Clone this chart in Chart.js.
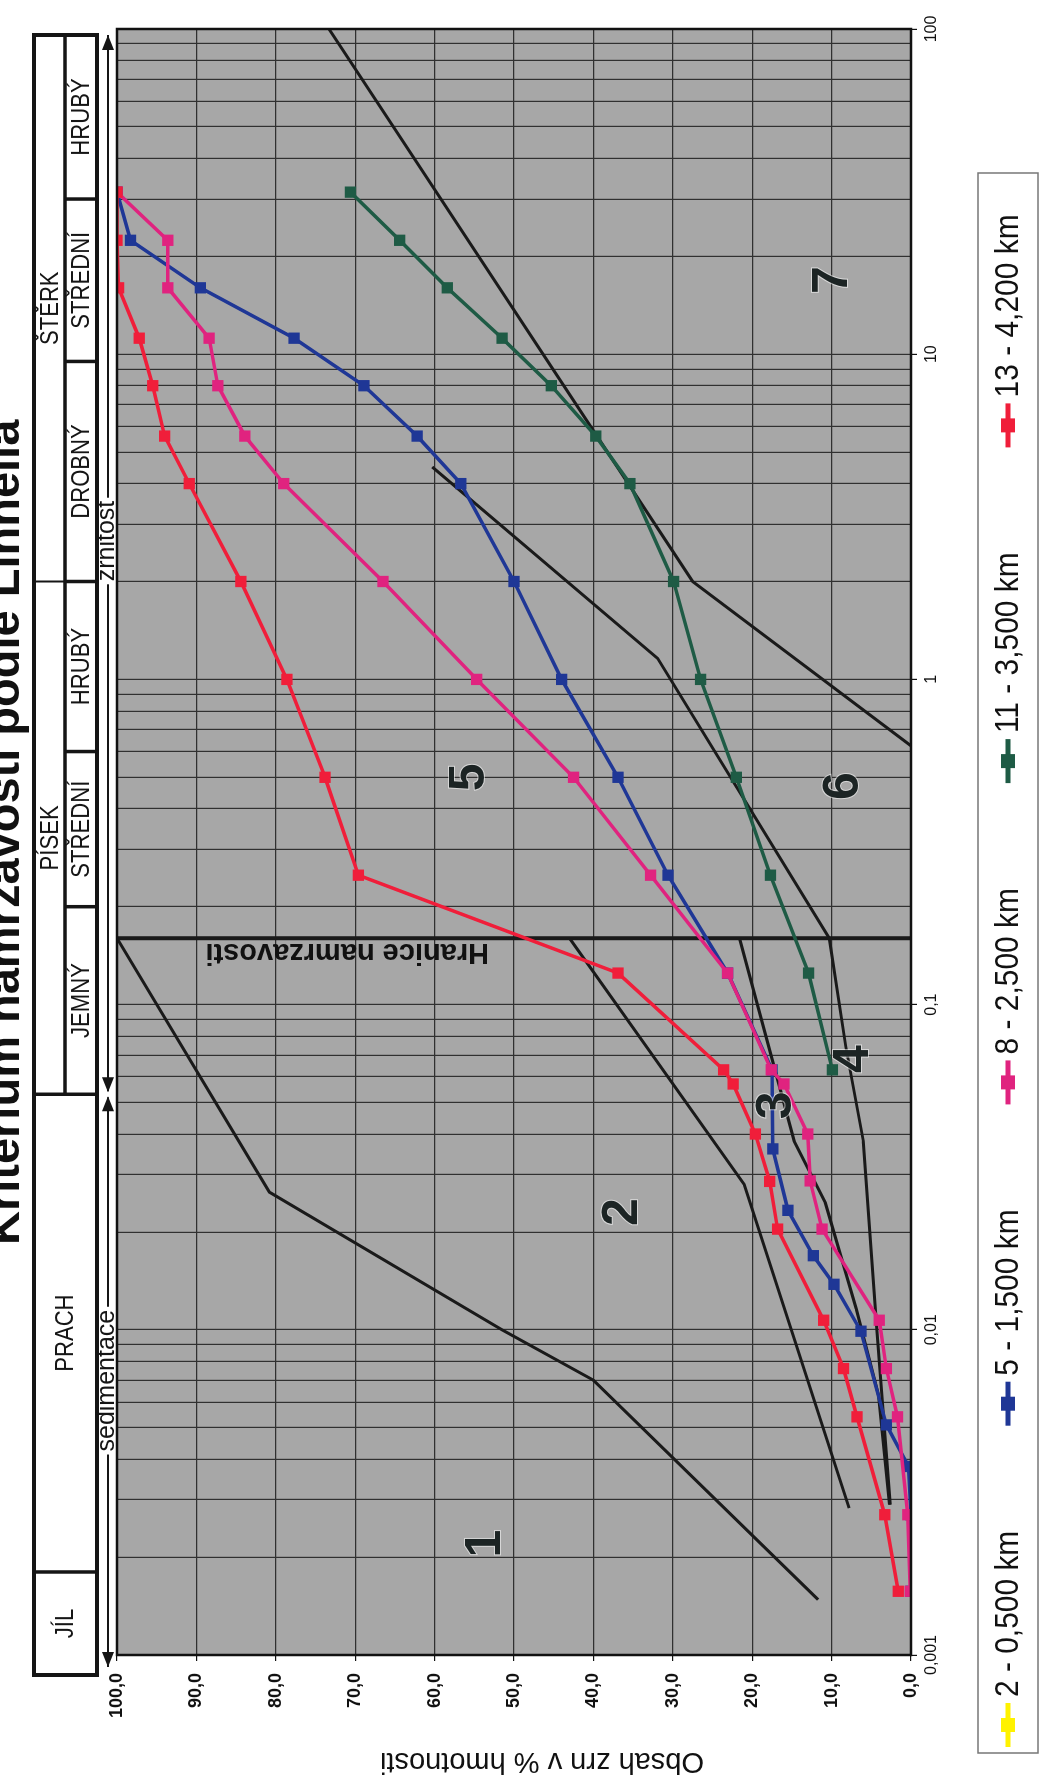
<!DOCTYPE html>
<html lang="cs">
<head>
<meta charset="utf-8">
<title>Kriterium namrzavosti</title>
<script src="https://cdn.jsdelivr.net/npm/chart.js@4.4.1/dist/chart.umd.min.js"></script>
<style>
  html, body { margin: 0; padding: 0; background: #fff; overflow: hidden; }
  body { width: 1046px; height: 1785px; position: relative; }
  /* the sheet is drawn landscape and turned a quarter left, like the scan */
  #sheet { position: absolute; left: 0; top: 0; width: 1785px; height: 1046px;
           transform-origin: 0 0; transform: translateY(1785px) rotate(-90deg); }
</style>
</head>
<body>
<div id="sheet"><canvas id="grainChart" width="1785" height="1046"></canvas></div>
<script>
const SANS = "'Liberation Sans', Arial, sans-serif";

// ---- data ----
const seriesNames = ["2 - 0,500 km", "5 - 1,500 km", "8 - 2,500 km", "11 - 3,500 km", "13 - 4,200 km"];
const seriesColors = ["#FFF200", "#1F3796", "#E0237F", "#1E5B45", "#F01E3A"];

const sizes2 = [];
const pass2 = [];

const sizes5 = [31.5, 22.4, 16, 11.2, 8, 5.6, 4, 2, 1, 0.5, 0.25, 0.125, 0.063, 0.036, 0.0233, 0.0169, 0.0138, 0.0099, 0.0051, 0.0038, 0.0027, 0.00157];
const pass5 = [100, 98.3, 89.5, 77.7, 68.9, 62.2, 56.7, 50.0, 44.0, 36.9, 30.6, 23.1, 17.5, 17.4, 15.5, 12.3, 9.7, 6.3, 3.1, 0.3, 0, 0];

const sizes8 = [31.5, 22.4, 16, 11.2, 8, 5.6, 4, 2, 1, 0.5, 0.25, 0.125, 0.063, 0.057, 0.040, 0.0287, 0.0204, 0.0107, 0.0076, 0.0054, 0.0027, 0.00157];
const pass8 = [100, 93.6, 93.6, 88.4, 87.3, 83.9, 79.0, 66.5, 54.7, 42.5, 32.8, 23.1, 17.6, 16.0, 13.0, 12.7, 11.2, 4.0, 3.1, 1.7, 0.4, 0.1];

const sizes11 = [31.5, 22.4, 16, 11.2, 8, 5.6, 4, 2, 1, 0.5, 0.25, 0.125, 0.063];
const pass11 = [70.6, 64.4, 58.4, 51.5, 45.3, 39.7, 35.4, 29.9, 26.5, 22.0, 17.7, 12.9, 9.9];

const sizes13 = [31.5, 22.4, 16, 11.2, 8, 5.6, 4, 2, 1, 0.5, 0.25, 0.125, 0.063, 0.057, 0.040, 0.0286, 0.0204, 0.0107, 0.0076, 0.0054, 0.0027, 0.00157];
const pass13 = [100, 100, 99.8, 97.2, 95.5, 94.0, 90.9, 84.4, 78.6, 73.8, 69.6, 36.9, 23.6, 22.4, 19.6, 17.8, 16.8, 11.0, 8.5, 6.8, 3.3, 1.6];

// zone boundaries of the criterion
const frostLimit = 0.16;
const limitASizes = [0.16, 0.0265, 0.01, 0.007, 0.00148];
const limitAPass = [100, 80.8, 51.5, 40, 11.7];
const limitBSizes = [0.16, 0.028, 0.00283];
const limitBPass = [43, 21, 7.8];
const limitDSizes = [100, 2.0, 0.625];
const limitDPass = [73.3, 27.5, 0];
const limitESizes = [0.16, 0.038, 0.0246, 0.0116, 0.0063, 0.0029];
const limitEPass = [21.6, 14.7, 10.8, 6.9, 4.1, 2.7];
const limitFSizes = [4.5, 1.16, 0.16, 0.074, 0.038, 0.0101, 0.0029];
const limitFPass = [60.3, 31.9, 10.3, 8.2, 6.0, 4.3, 2.6];

const zoneNames = ["1", "2", "3", "4", "5", "6", "7"];
const zoneSizes = [0.0022, 0.023, 0.049, 0.068, 0.50, 0.47, 16.9];
const zonePercents = [53.5, 36.2, 16.9, 7.1, 55.5, 8.4, 9.8];

const decadeValues = [0.001, 0.01, 0.1, 1, 10, 100];
const decadeLabels = ["0,001", "0,01", "0,1", "1", "10", "100"];

const soilClasses = ["JÍL", "PRACH", "PÍSEK", "ŠTĚRK"];
const soilLimits = [0.001, 0.0018, 0.053, 2, 100];
const soilSubNames = ["JEMNÝ", "STŘEDNÍ", "HRUBÝ", "DROBNÝ", "STŘEDNÍ", "HRUBÝ"];
const soilSubLimits = [0.053, 0.2, 0.6, 2, 9.5, 30, 100];

// ---- helpers ----
const pts = (xs, ys) => xs.map((x, i) => ({ x: x, y: ys[i] }));
const isDecade = v => decadeValues.some(d => Math.abs(v / d - 1) < 1e-6);

const gridValues = [];
decadeValues.forEach((d, k) => {
  const last = k === decadeValues.length - 1 ? 1 : 9;
  for (let m = 1; m <= last; m++) gridValues.push(+(d * m).toPrecision(3));
});

function series(i, xs, ys, order) {
  return {
    label: seriesNames[i],
    data: pts(xs, ys),
    borderColor: seriesColors[i],
    backgroundColor: seriesColors[i],
    borderWidth: 3.5,
    pointStyle: "rect",
    pointRadius: 8,
    pointBorderWidth: 0,
    tension: 0,
    order: order
  };
}

function limitLine(xs, ys, width) {
  return {
    label: "",
    data: pts(xs, ys),
    borderColor: "#1a1a1a",
    borderWidth: width || 3,
    pointRadius: 0,
    tension: 0,
    order: 10
  };
}

// condensed lettering, like the narrow font of the scan
function narrowText(ctx, txt, x, y, sx) {
  ctx.save();
  ctx.translate(x, y);
  ctx.scale(sx, 1);
  ctx.fillText(txt, 0, 0);
  ctx.restore();
}

function arrowHead(ctx, x, y, dir) {
  ctx.beginPath();
  ctx.moveTo(x, y);
  ctx.lineTo(x - dir * 15, y - 6);
  ctx.lineTo(x - dir * 15, y + 6);
  ctx.closePath();
  ctx.fill();
}

function drawTable(ctx, x) {
  const L = x.getPixelForValue(0.001) - 20;
  const R = x.getPixelForValue(100) - 6;
  const T = 34, M = 65, B = 97;
  const px = v => (v <= 0.001 ? L : v >= 100 ? R : x.getPixelForValue(v));

  ctx.strokeStyle = "#151515";
  ctx.fillStyle = "#151515";

  ctx.lineWidth = 3.5;
  soilLimits.slice(1, 3).forEach(v => {
    ctx.beginPath(); ctx.moveTo(px(v), T); ctx.lineTo(px(v), B); ctx.stroke();
  });
  ctx.beginPath(); ctx.moveTo(px(soilLimits[2]), M); ctx.lineTo(R, M); ctx.stroke();
  soilSubLimits.slice(1, -1).forEach(v => {
    ctx.beginPath(); ctx.moveTo(px(v), M); ctx.lineTo(px(v), B); ctx.stroke();
  });
  ctx.lineWidth = 2;
  ctx.beginPath(); ctx.moveTo(px(2), T); ctx.lineTo(px(2), M); ctx.stroke();

  ctx.lineWidth = 4;
  ctx.strokeRect(L, T, R - L, B - T);

  ctx.font = "26px " + SANS;
  ctx.textAlign = "center";
  ctx.textBaseline = "middle";
  soilClasses.forEach((name, i) => {
    const cx = (px(soilLimits[i]) + px(soilLimits[i + 1])) / 2;
    const cy = i < 2 ? (T + B) / 2 : (T + M) / 2 + 1;
    narrowText(ctx, name, cx, cy, 0.85);
  });
  soilSubNames.forEach((name, i) => {
    const cx = (px(soilSubLimits[i]) + px(soilSubLimits[i + 1])) / 2;
    narrowText(ctx, name, cx, (M + B) / 2 + 1, 0.85);
  });
}

function drawArrows(ctx, x) {
  const yy = 108;
  const mid = x.getPixelForValue(soilLimits[2]);
  const a1 = x.getPixelForValue(0.001) - 12;
  const a2 = x.getPixelForValue(100) - 6;
  ctx.strokeStyle = "#151515";
  ctx.fillStyle = "#151515";
  ctx.lineWidth = 2;
  ctx.beginPath(); ctx.moveTo(a1, yy); ctx.lineTo(mid - 3, yy); ctx.stroke();
  ctx.beginPath(); ctx.moveTo(mid + 3, yy); ctx.lineTo(a2, yy); ctx.stroke();
  arrowHead(ctx, a1, yy, -1);
  arrowHead(ctx, mid - 2, yy, 1);
  arrowHead(ctx, mid + 2, yy, -1);
  arrowHead(ctx, a2, yy, 1);

  ctx.font = "25px " + SANS;
  ctx.textAlign = "center";
  ctx.textBaseline = "middle";
  [["sedimentace", (a1 + mid) / 2], ["zrnitost", 1244]].forEach(([txt, cx]) => {
    const w = ctx.measureText(txt).width + 6;
    ctx.fillStyle = "#fff";
    ctx.fillRect(cx - w / 2, yy - 6, w, 12);
    ctx.fillStyle = "#151515";
    ctx.fillText(txt, cx, yy - 1);
  });
}

function drawLegend(ctx, chart) {
  const box = { left: 32, top: 978, right: 1612, bottom: 1038 };
  const sx = 0.88;
  ctx.fillStyle = "#fff";
  ctx.fillRect(box.left, box.top, box.right - box.left, box.bottom - box.top);
  ctx.strokeStyle = "#777";
  ctx.lineWidth = 1.5;
  ctx.strokeRect(box.left, box.top, box.right - box.left, box.bottom - box.top);

  ctx.font = "34px " + SANS;
  ctx.textAlign = "left";
  ctx.textBaseline = "middle";
  const cy = (box.top + box.bottom) / 2;
  let cx = box.left + 6;
  chart.data.datasets.forEach(ds => {
    if (!ds.label) return;
    ctx.strokeStyle = ds.borderColor;
    ctx.fillStyle = ds.borderColor;
    ctx.lineWidth = 5;
    ctx.beginPath(); ctx.moveTo(cx, cy); ctx.lineTo(cx + 44, cy); ctx.stroke();
    ctx.fillRect(cx + 15, cy - 7, 14, 14);
    ctx.fillStyle = "#111";
    narrowText(ctx, ds.label, cx + 50, cy + 1, sx);
    cx += 50 + ctx.measureText(ds.label).width * sx + 105;
  });
}

const sheetDecor = {
  id: "sheetDecor",
  beforeDraw(chart) {
    const { ctx, chartArea: a } = chart;
    ctx.save();
    ctx.fillStyle = "#A7A7A7";
    ctx.fillRect(a.left, a.top, a.right - a.left, a.bottom - a.top);
    ctx.restore();
  },
  afterDraw(chart) {
    const { ctx, chartArea: a, scales: { x, y } } = chart;
    ctx.save();

    ctx.strokeStyle = "#111";
    ctx.lineWidth = 2.5;
    ctx.strokeRect(a.left, a.top, a.right - a.left, a.bottom - a.top);

    // zone numbers
    ctx.font = "bold 50px " + SANS;
    ctx.textAlign = "center";
    ctx.textBaseline = "middle";
    zoneNames.forEach((n, i) => {
      const px = x.getPixelForValue(zoneSizes[i]);
      const py = y.getPixelForValue(zonePercents[i]);
      ctx.lineWidth = 2;
      ctx.strokeStyle = "rgba(255,255,255,0.55)";
      ctx.strokeText(n, px, py);
      ctx.fillStyle = "#1c2424";
      ctx.fillText(n, px, py);
    });

    // frost limit caption
    ctx.save();
    ctx.translate(x.getPixelForValue(frostLimit) - 14, y.getPixelForValue(71));
    ctx.rotate(-Math.PI / 2);
    ctx.font = "bold 29px " + SANS;
    ctx.fillStyle = "#111";
    ctx.fillText("Hranice namrzavosti", 0, 0);
    ctx.restore();

    // value axis title
    ctx.save();
    ctx.translate(24, 542);
    ctx.rotate(-Math.PI / 2);
    ctx.font = "29px " + SANS;
    ctx.fillStyle = "#111";
    ctx.fillText("Obsah zrn v % hmotnosti", 0, 0);
    ctx.restore();

    // sheet title, cut by the top edge of the scan
    ctx.font = "bold 47px " + SANS;
    ctx.textAlign = "left";
    ctx.textBaseline = "alphabetic";
    ctx.fillStyle = "#111";
    ctx.fillText("Kriterium namrzavosti podle Linnella", 540, 19);

    drawTable(ctx, x);
    drawArrows(ctx, x);
    drawLegend(ctx, chart);
    ctx.restore();
  }
};

const ctx = document.getElementById("grainChart").getContext("2d");
const chart = new Chart(ctx, {
  type: "line",
  data: {
    datasets: [
      series(0, sizes2, pass2, 4),
      series(1, sizes5, pass5, 3),
      series(2, sizes8, pass8, 2),
      series(3, sizes11, pass11, 1),
      series(4, sizes13, pass13, 0),
      limitLine([frostLimit, frostLimit], [0, 100], 4),
      limitLine(limitASizes, limitAPass),
      limitLine(limitBSizes, limitBPass),
      limitLine(limitDSizes, limitDPass),
      limitLine(limitESizes, limitEPass),
      limitLine(limitFSizes, limitFPass)
    ]
  },
  options: {
    responsive: false,
    animation: false,
    layout: { padding: { left: 0, right: 29, top: 117, bottom: 85 } },
    plugins: { legend: { display: false }, tooltip: { enabled: false } },
    scales: {
      x: {
        type: "logarithmic",
        min: 0.001,
        max: 100,
        afterBuildTicks: s => { s.ticks = gridValues.map(v => ({ value: v })); },
        afterFit: s => { s.height = 50; },
        ticks: {
          autoSkip: false,
          maxRotation: 0,
          padding: 5,
          color: "#111",
          font: { family: SANS, size: 16 },
          callback: v => {
            const k = decadeValues.findIndex(d => Math.abs(v / d - 1) < 1e-6);
            return k < 0 ? "" : decadeLabels[k];
          }
        },
        grid: {
          color: "#303030",
          lineWidth: 1.2,
          tickLength: 6,
          tickColor: c => (c.tick && isDecade(c.tick.value) ? "#111" : "rgba(0,0,0,0)")
        },
        border: { display: false }
      },
      y: {
        min: 0,
        max: 100,
        afterFit: s => { s.width = 130; },
        ticks: {
          stepSize: 10,
          padding: 12,
          color: "#111",
          font: { family: SANS, size: 18, weight: "bold" },
          callback: v => v.toFixed(1).replace(".", ",")
        },
        grid: { color: "#303030", lineWidth: 1.2, tickLength: 6, tickColor: "#111" },
        border: { display: false }
      }
    }
  },
  plugins: [sheetDecor]
});
</script>
</body>
</html>
